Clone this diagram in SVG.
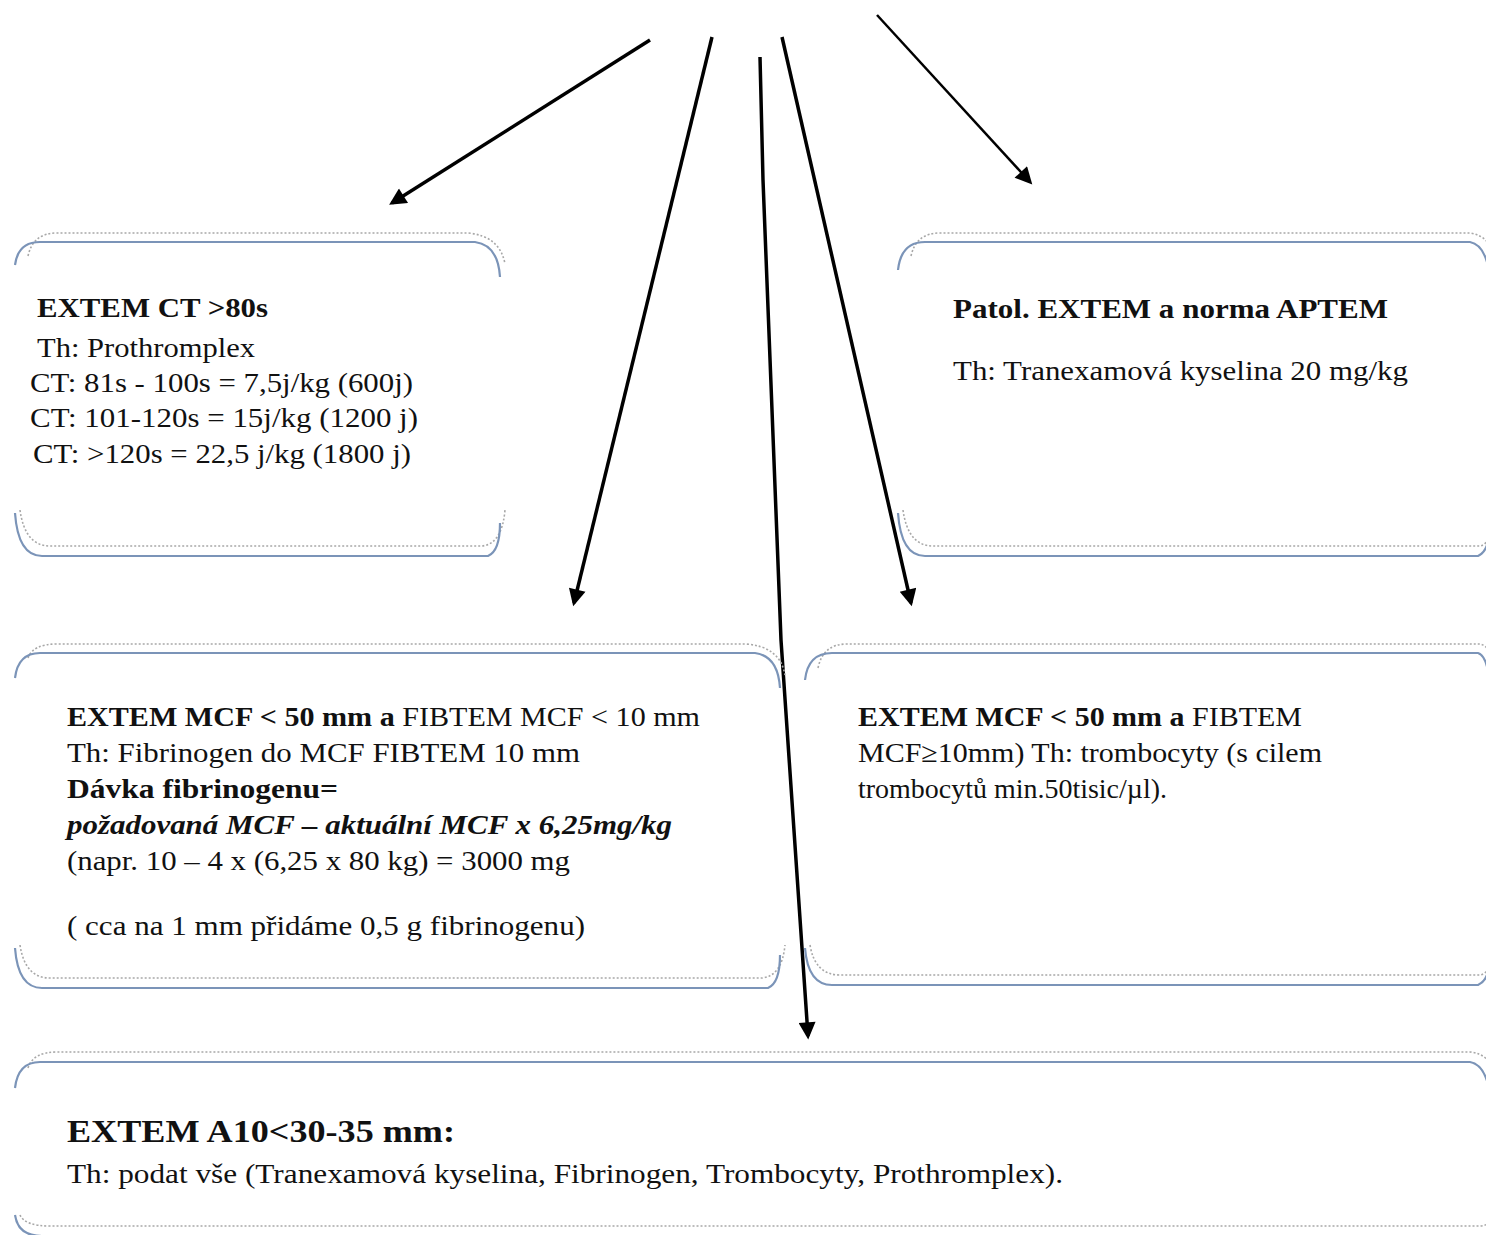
<svg xmlns="http://www.w3.org/2000/svg" width="1486" height="1235" viewBox="0 0 1486 1235">
<defs>
<style>
.solid{fill:none;stroke:#7b94b8;stroke-width:2.2}
.dot{fill:none;stroke:#a8a8a8;stroke-width:1.6;stroke-dasharray:2 2}
.t{font-family:"Liberation Serif","Times New Roman",serif;font-size:28px;fill:#111}
.b{font-weight:bold}
.bi{font-weight:bold;font-style:italic}
.arr{fill:none;stroke:#000;stroke-width:3.5}
.arr2{fill:none;stroke:#000;stroke-width:2.5}
</style>
<marker id="ah" viewBox="0 0 10 10" refX="8" refY="5" markerWidth="20" markerHeight="17" markerUnits="userSpaceOnUse" orient="auto">
<path d="M0,0 L10,5 L0,10 z" fill="#000"/>
</marker>
</defs>
<rect width="1486" height="1235" fill="#fff"/>

<g id="connectors">
<line class="arr" x1="650" y1="40" x2="392" y2="203" marker-end="url(#ah)"/>
<line class="arr" x1="712" y1="37" x2="574" y2="603" marker-end="url(#ah)"/>
<polyline class="arr" points="760,57 763,180 781,640 808,1036" marker-end="url(#ah)"/>
<line class="arr" x1="782" y1="37" x2="911" y2="603" marker-end="url(#ah)"/>
<line class="arr2" x1="877" y1="15" x2="1030" y2="182" marker-end="url(#ah)"/>
</g>

<g id="box-extem-ct">
<path class="dot" d="M28,256 Q33,233 57,233 L468,233 Q500,236 505,264"/>
<path class="solid" d="M15,265 Q18,242 40,242 L475,242 Q498,245 500,277"/>
<path class="dot" d="M20,510 Q25,546 50,546 L482,546 Q502,544 505,510"/>
<path class="solid" d="M15,513 Q18,556 42,556 L488,556 Q500,551 500,523"/>
<text class="t b" x="37" y="317" textLength="231" lengthAdjust="spacingAndGlyphs">EXTEM CT &gt;80s</text>
<text class="t" x="37" y="357" textLength="218" lengthAdjust="spacingAndGlyphs">Th: Prothromplex</text>
<text class="t" x="30" y="392" textLength="383" lengthAdjust="spacingAndGlyphs">CT: 81s - 100s = 7,5j/kg (600j)</text>
<text class="t" x="30" y="427" textLength="388" lengthAdjust="spacingAndGlyphs">CT: 101-120s = 15j/kg (1200 j)</text>
<text class="t" x="33" y="463" textLength="378" lengthAdjust="spacingAndGlyphs">CT: &gt;120s = 22,5 j/kg (1800 j)</text>
</g>

<g id="box-patol">
<path class="dot" d="M911,256 Q916,233 940,233 L1470,233 Q1492,236 1496,264"/>
<path class="solid" d="M898,270 Q901,242 925,242 L1470,242 Q1486,245 1490,277"/>
<path class="dot" d="M903,510 Q908,546 933,546 L1480,546 Q1492,544 1496,510"/>
<path class="solid" d="M898,513 Q901,556 925,556 L1478,556 Q1490,551 1490,523"/>
<text class="t b" x="953" y="318" textLength="435" lengthAdjust="spacingAndGlyphs">Patol. EXTEM a norma APTEM</text>
<text class="t" x="953" y="380" textLength="455" lengthAdjust="spacingAndGlyphs">Th: Tranexamová kyselina 20 mg/kg</text>
</g>

<g id="box-fibrinogen">
<path class="dot" d="M28,658 Q33,644 57,644 L745,644 Q780,646 785,675"/>
<path class="solid" d="M15,678 Q18,653 40,653 L755,653 Q778,656 780,688"/>
<path class="dot" d="M20,945 Q25,978 50,978 L762,978 Q782,976 785,945"/>
<path class="solid" d="M15,948 Q18,988 42,988 L768,988 Q780,983 780,955"/>
<text class="t" x="67" y="726" textLength="633" lengthAdjust="spacingAndGlyphs"><tspan class="b">EXTEM MCF &lt; 50 mm a</tspan> FIBTEM MCF &lt; 10 mm</text>
<text class="t" x="67" y="762" textLength="513" lengthAdjust="spacingAndGlyphs">Th: Fibrinogen do MCF FIBTEM 10 mm</text>
<text class="t b" x="67" y="798" textLength="271" lengthAdjust="spacingAndGlyphs">Dávka fibrinogenu=</text>
<text class="t bi" x="67" y="834" textLength="605" lengthAdjust="spacingAndGlyphs">požadovaná MCF – aktuální MCF x 6,25mg/kg</text>
<text class="t" x="67" y="870" textLength="503" lengthAdjust="spacingAndGlyphs">(napr. 10 – 4 x (6,25 x 80 kg) = 3000 mg</text>
<text class="t" x="67" y="935" textLength="518" lengthAdjust="spacingAndGlyphs">( cca na 1 mm přidáme 0,5 g fibrinogenu)</text>
</g>

<g id="box-trombocyty">
<path class="dot" d="M818,668 Q823,644 847,644 L1480,644 Q1492,646 1496,675"/>
<path class="solid" d="M805,680 Q808,653 832,653 L1478,653 Q1488,656 1490,688"/>
<path class="dot" d="M810,945 Q815,975 840,975 L1480,975 Q1492,973 1496,945"/>
<path class="solid" d="M805,948 Q808,985 832,985 L1478,985 Q1490,980 1490,955"/>
<text class="t" x="858" y="726" textLength="444" lengthAdjust="spacingAndGlyphs"><tspan class="b">EXTEM MCF &lt; 50 mm a</tspan> FIBTEM</text>
<text class="t" x="858" y="762" textLength="464" lengthAdjust="spacingAndGlyphs">MCF≥10mm) Th: trombocyty (s cilem</text>
<text class="t" x="858" y="798" textLength="309" lengthAdjust="spacingAndGlyphs">trombocytů min.50tisic/µl).</text>
</g>

<g id="box-a10">
<path class="dot" d="M28,1068 Q33,1052 57,1052 L1470,1052 Q1492,1054 1496,1080"/>
<path class="solid" d="M15,1088 Q18,1062 40,1062 L1470,1062 Q1486,1065 1490,1095"/>
<path class="dot" d="M20,1215 Q25,1226 50,1226 L1480,1226 Q1492,1225 1496,1215"/>
<path class="solid" d="M15,1215 Q18,1236 42,1236 L1478,1236"/>
<text class="t b" x="67" y="1142" style="font-size:31px" textLength="388" lengthAdjust="spacingAndGlyphs">EXTEM A10&lt;30-35 mm:</text>
<text class="t" x="67" y="1183" textLength="996" lengthAdjust="spacingAndGlyphs">Th: podat vše (Tranexamová kyselina, Fibrinogen, Trombocyty, Prothromplex).</text>
</g>
</svg>
